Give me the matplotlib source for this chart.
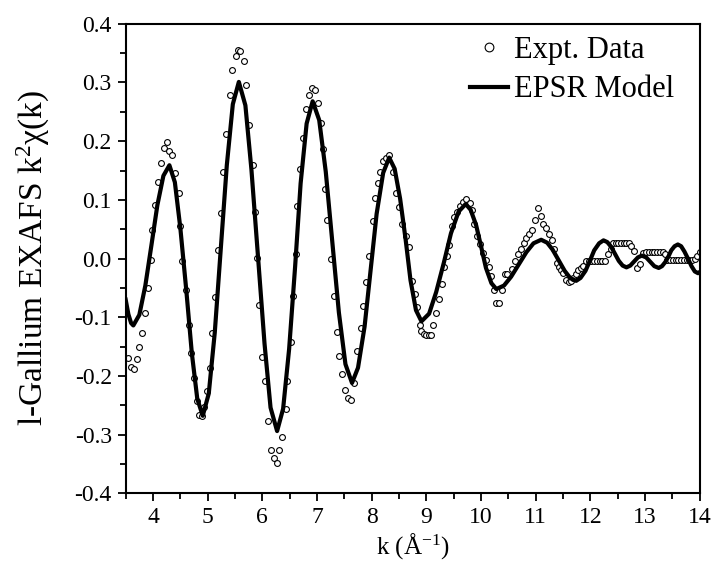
import matplotlib
matplotlib.use("Agg")
import matplotlib.pyplot as plt
from matplotlib.ticker import MultipleLocator, FormatStrFormatter

plt.rcParams['font.family'] = ['Liberation Serif', 'DejaVu Serif']
plt.rcParams['mathtext.fontset'] = 'custom'
plt.rcParams['mathtext.rm'] = 'Liberation Serif'
plt.rcParams['mathtext.it'] = 'Liberation Serif:italic'
plt.rcParams['axes.unicode_minus'] = False

# experimental EXAFS points (k, k^2 chi)
expt_k = [3.55, 3.60, 3.65, 3.70, 3.75, 3.80, 3.85, 3.91, 3.96, 3.99,
          4.04, 4.10, 4.15, 4.20, 4.25, 4.30, 4.35, 4.41, 4.47, 4.50,
          4.53, 4.60, 4.65, 4.69, 4.75, 4.80, 4.85, 4.90, 4.93, 4.98,
          5.04, 5.08, 5.13, 5.18, 5.24, 5.28, 5.34, 5.40, 5.45, 5.51,
          5.55, 5.60, 5.66, 5.71, 5.76, 5.82, 5.87, 5.91, 5.94, 6.00,
          6.05, 6.10, 6.16, 6.21, 6.26, 6.30, 6.36, 6.43, 6.46, 6.52,
          6.56, 6.61, 6.64, 6.69, 6.74, 6.80, 6.86, 6.90, 6.96, 7.02,
          7.08, 7.11, 7.14, 7.19, 7.25, 7.31, 7.36, 7.40, 7.46, 7.52,
          7.57, 7.62, 7.68, 7.74, 7.80, 7.84, 7.89, 7.95, 8.02, 8.06,
          8.12, 8.16, 8.21, 8.27, 8.32, 8.39, 8.45, 8.50, 8.56, 8.62,
          8.68, 8.73, 8.79, 8.83, 8.88, 8.91, 8.95, 9.00, 9.04, 9.08,
          9.12, 9.17, 9.23, 9.29, 9.32, 9.37, 9.41, 9.47, 9.51, 9.56,
          9.61, 9.67, 9.73, 9.79, 9.84, 9.87, 9.93, 9.99, 10.04, 10.09,
          10.14, 10.19, 10.23, 10.28, 10.33, 10.38, 10.43, 10.48, 10.57, 10.63,
          10.68, 10.73, 10.78, 10.83, 10.88, 10.93, 10.98, 11.04, 11.09, 11.13,
          11.18, 11.24, 11.29, 11.34, 11.39, 11.42, 11.46, 11.50, 11.56, 11.60,
          11.64, 11.68, 11.73, 11.77, 11.83, 11.87, 11.92, 11.97, 12.02, 12.07,
          12.12, 12.17, 12.22, 12.27, 12.32, 12.37, 12.41, 12.46, 12.51, 12.56,
          12.61, 12.66, 12.70, 12.74, 12.79, 12.85, 12.90, 12.97, 13.02, 13.07,
          13.12, 13.17, 13.22, 13.27, 13.32, 13.36, 13.41, 13.46, 13.51, 13.56,
          13.61, 13.66, 13.71, 13.76, 13.81, 13.86, 13.91, 13.95, 14.00]
expt_chi = [-0.170, -0.184, -0.188, -0.171, -0.151, -0.127, -0.092, -0.051, -0.003, 0.049,
            0.092, 0.131, 0.163, 0.188, 0.198, 0.184, 0.176, 0.145, 0.111, 0.055,
            -0.005, -0.053, -0.114, -0.161, -0.204, -0.242, -0.266, -0.269, -0.253, -0.225,
            -0.187, -0.127, -0.065, 0.015, 0.078, 0.147, 0.213, 0.279, 0.321, 0.345,
            0.355, 0.353, 0.336, 0.295, 0.227, 0.159, 0.079, 0.001, -0.080, -0.167,
            -0.208, -0.276, -0.326, -0.340, -0.349, -0.326, -0.304, -0.256, -0.208, -0.143,
            -0.064, 0.007, 0.089, 0.153, 0.205, 0.254, 0.278, 0.291, 0.287, 0.265,
            0.231, 0.187, 0.119, 0.066, -0.001, -0.063, -0.125, -0.166, -0.197, -0.224,
            -0.237, -0.241, -0.212, -0.157, -0.119, -0.081, -0.040, 0.005, 0.064, 0.104,
            0.128, 0.148, 0.166, 0.172, 0.176, 0.147, 0.111, 0.088, 0.059, 0.038,
            0.020, -0.039, -0.060, -0.082, -0.113, -0.123, -0.129, -0.131, -0.131, -0.131,
            -0.113, -0.092, -0.069, -0.043, -0.014, 0.005, 0.023, 0.055, 0.071, 0.080,
            0.090, 0.096, 0.102, 0.094, 0.083, 0.059, 0.038, 0.025, 0.009, -0.002,
            -0.015, -0.029, -0.054, -0.076, -0.076, -0.054, -0.027, -0.027, -0.018, -0.005,
            0.007, 0.017, 0.026, 0.035, 0.042, 0.049, 0.066, 0.086, 0.073, 0.059,
            0.052, 0.042, 0.032, 0.017, -0.007, -0.015, -0.020, -0.025, -0.036, -0.040,
            -0.039, -0.033, -0.026, -0.020, -0.016, -0.012, -0.005, -0.004, -0.004, -0.004,
            -0.004, -0.004, -0.004, -0.004, 0.008, 0.017, 0.027, 0.027, 0.027, 0.027,
            0.027, 0.027, 0.027, 0.021, 0.013, -0.016, -0.009, 0.010, 0.012, 0.012,
            0.012, 0.012, 0.012, 0.012, 0.012, 0.008, -0.003, -0.003, -0.003, -0.003,
            -0.003, -0.003, -0.003, -0.003, -0.003, -0.003, 0.000, 0.005, 0.011]

# EPSR model curve
model_k = [3.50, 3.55, 3.60, 3.64, 3.75, 3.86, 3.97, 4.08, 4.19, 4.30,
           4.40, 4.50, 4.61, 4.71, 4.81, 4.91, 5.02, 5.13, 5.24, 5.35,
           5.46, 5.57, 5.69, 5.80, 5.92, 6.04, 6.15, 6.27, 6.38, 6.49,
           6.60, 6.70, 6.81, 6.92, 7.04, 7.16, 7.28, 7.40, 7.52, 7.64,
           7.75, 7.87, 7.98, 8.09, 8.21, 8.32, 8.42, 8.52, 8.62, 8.71,
           8.81, 8.91, 9.05, 9.18, 9.32, 9.45, 9.59, 9.72, 9.81, 9.91,
           10.00, 10.09, 10.19, 10.28, 10.42, 10.55, 10.69, 10.83, 10.96, 11.10,
           11.21, 11.31, 11.42, 11.53, 11.63, 11.74, 11.82, 11.91, 11.99, 12.07,
           12.16, 12.24, 12.31, 12.38, 12.45, 12.52, 12.59, 12.66, 12.73, 12.80,
           12.87, 12.94, 13.02, 13.10, 13.17, 13.25, 13.31, 13.37, 13.43, 13.48,
           13.54, 13.60, 13.66, 13.72, 13.79, 13.85, 13.91, 13.97, 14.00]
model_chi = [-0.070, -0.095, -0.110, -0.114, -0.096, -0.046, 0.022, 0.091, 0.141, 0.159,
             0.130, 0.052, -0.055, -0.161, -0.239, -0.268, -0.230, -0.126, 0.017, 0.159,
             0.263, 0.301, 0.261, 0.152, 0.004, -0.145, -0.254, -0.294, -0.256, -0.154,
             -0.013, 0.128, 0.230, 0.268, 0.236, 0.148, 0.028, -0.092, -0.180, -0.212,
             -0.186, -0.116, -0.020, 0.076, 0.146, 0.172, 0.153, 0.102, 0.033, -0.037,
             -0.088, -0.107, -0.094, -0.057, -0.007, 0.043, 0.080, 0.093, 0.083, 0.057,
             0.021, -0.016, -0.042, -0.052, -0.046, -0.031, -0.010, 0.011, 0.026, 0.032,
             0.027, 0.015, -0.003, -0.021, -0.033, -0.038, -0.033, -0.021, -0.004, 0.014,
             0.026, 0.031, 0.028, 0.020, 0.008, -0.004, -0.012, -0.015, -0.012, -0.005,
             0.002, 0.005, 0.002, -0.006, -0.013, -0.016, -0.013, -0.006, 0.004, 0.014,
             0.021, 0.024, 0.021, 0.012, -0.001, -0.013, -0.022, -0.025, -0.023]

fig = plt.figure(figsize=(7.14, 5.67), dpi=100)
ax = fig.add_axes([0.176, 0.130, 0.804, 0.828])

ax.plot(expt_k, expt_chi, linestyle='none', marker='o', markersize=4.2,
        markerfacecolor='white', markeredgecolor='black', markeredgewidth=0.8,
        label='Expt. Data')
ax.plot(model_k, model_chi, color='black', linewidth=3, solid_joinstyle='round',
        label='EPSR Model')

ax.set_xlim(3.5, 14)
ax.set_ylim(-0.4, 0.4)
ax.xaxis.set_major_locator(MultipleLocator(1))
ax.xaxis.set_minor_locator(MultipleLocator(0.5))
ax.yaxis.set_major_locator(MultipleLocator(0.1))
ax.yaxis.set_minor_locator(MultipleLocator(0.05))
ax.yaxis.set_major_formatter(FormatStrFormatter('%.1f'))
ax.tick_params(which='both', direction='out', top=False, right=False, width=1.3, labelsize=17)
ax.tick_params(which='major', length=6, pad=4)
ax.tick_params(which='minor', length=4)
for s in ax.spines.values():
    s.set_linewidth(1.5)

ax.set_xlabel('k (Å$^{-1}$)', fontsize=18, labelpad=2)
ax.set_ylabel('l-Gallium EXAFS k$^{2}$χ(k)', fontsize=24, labelpad=16)

ax.legend(loc='upper left', bbox_to_anchor=(0.578, 1.0), frameon=False, fontsize=22,
          handlelength=1.25, handletextpad=0.2, borderaxespad=0.2, borderpad=0.2,
          labelspacing=0.34, markerscale=1.5)

fig.savefig('out.png', dpi=100)
